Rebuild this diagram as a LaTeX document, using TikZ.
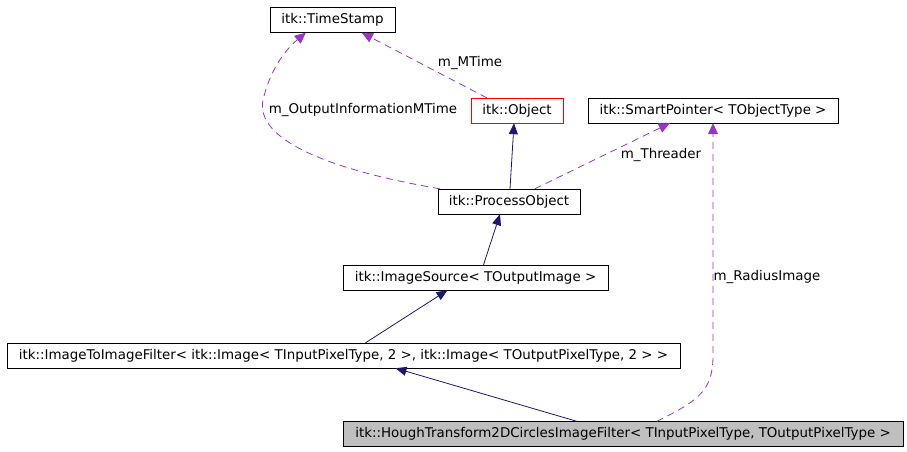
\documentclass[tikz,border=0pt]{standalone}
\usepackage{fontspec}
\setmainfont{DejaVu Sans}
\usepackage{tikz}
\usetikzlibrary{arrows.meta,calc}
\definecolor{inheritBlue}{HTML}{191970}
\definecolor{usePurple}{HTML}{9A32CD}
\definecolor{objRed}{HTML}{FF0000}
\definecolor{focusGray}{HTML}{BFBFBF}

\tikzset{
  cls/.style={draw=black, fill=white, font=\fontsize{13.4}{15}\selectfont, inner sep=0pt, minimum height=25pt, anchor=center},
  inherit/.style={draw=inheritBlue, line width=0.8pt, -{Triangle[length=11pt,width=9pt]}},
  member/.style={draw=usePurple, line width=0.8pt, dash pattern=on 7pt off 5pt, -{Triangle[length=11pt,width=10pt]}},
  lbl/.style={font=\fontsize{13.4}{15}\selectfont, inner sep=0pt}
}

\begin{document}
\begin{tikzpicture}[x=1pt,y=-1pt]
  \useasboundingbox (0,0) rectangle (907,451);

  % classes
  \node[cls, minimum width=125pt] (ts) at (332.5,20) {itk::TimeStamp};
  \node[cls, minimum width=92pt, draw=objRed] (obj) at (517,110.5) {itk::Object};
  \node[cls, minimum width=250pt] (sp) at (713,110.5) {itk::SmartPointer< TObjectType >};
  \node[cls, minimum width=142pt] (po) at (509,201.5) {itk::ProcessObject};
  \node[cls, minimum width=265pt] (src) at (475.5,277.5) {itk::ImageSource< TOutputImage >};
  \node[cls, minimum width=673pt] (i2i) at (343.5,355.5) {itk::ImageToImageFilter< itk::Image< TInputPixelType, 2 >, itk::Image< TOutputPixelType, 2 > >};
  \node[cls, minimum width=560pt, fill=focusGray] (hough) at (623,434) {itk::HoughTransform2DCirclesImageFilter< TInputPixelType, TOutputPixelType >};

  % inheritance
  \draw[inherit] ($(po.north)+(1,0)$) -- ($(obj.south)+(-3,0)$);
  \draw[inherit] ($(src.north)+(8,0)$) -- ($(po.south)+(-9,0)$);
  \draw[inherit] ($(i2i.north)+(22,0)$) -- ($(src.south)+(-28,0)$);
  \draw[inherit] ($(hough.north west)+(234,0)$) -- ($(i2i.south)+(52,0)$);

  % members
  \draw[member] ($(obj.north west)+(16,0)$) -- ($(ts.south west)+(92,0)$);
  \node[lbl] (lmtime) at (470,63) {m\_MTime};

  \draw[member] ($(po.north west)+(2,0)$) .. controls (330,170) and (255,140) .. (263,100)
    .. controls (270,70) and (285,50) .. ($(ts.south west)+(36,0)$);
  \node[lbl] (loutinfo) at (363,110) {m\_OutputInformationMTime};

  \draw[member] ($(po.north west)+(97,0)$) -- ($(sp.south west)+(82,0)$);
  \node[lbl] (lthreader) at (661,155) {m\_Threader};

  \draw[member] ($(hough.north west)+(314,0)$) .. controls (700,400) and (713,390) .. (713,355)
    -- (sp.south);
  \node[lbl] (lradius) at (767,277) {m\_RadiusImage};
\end{tikzpicture}
\end{document}
